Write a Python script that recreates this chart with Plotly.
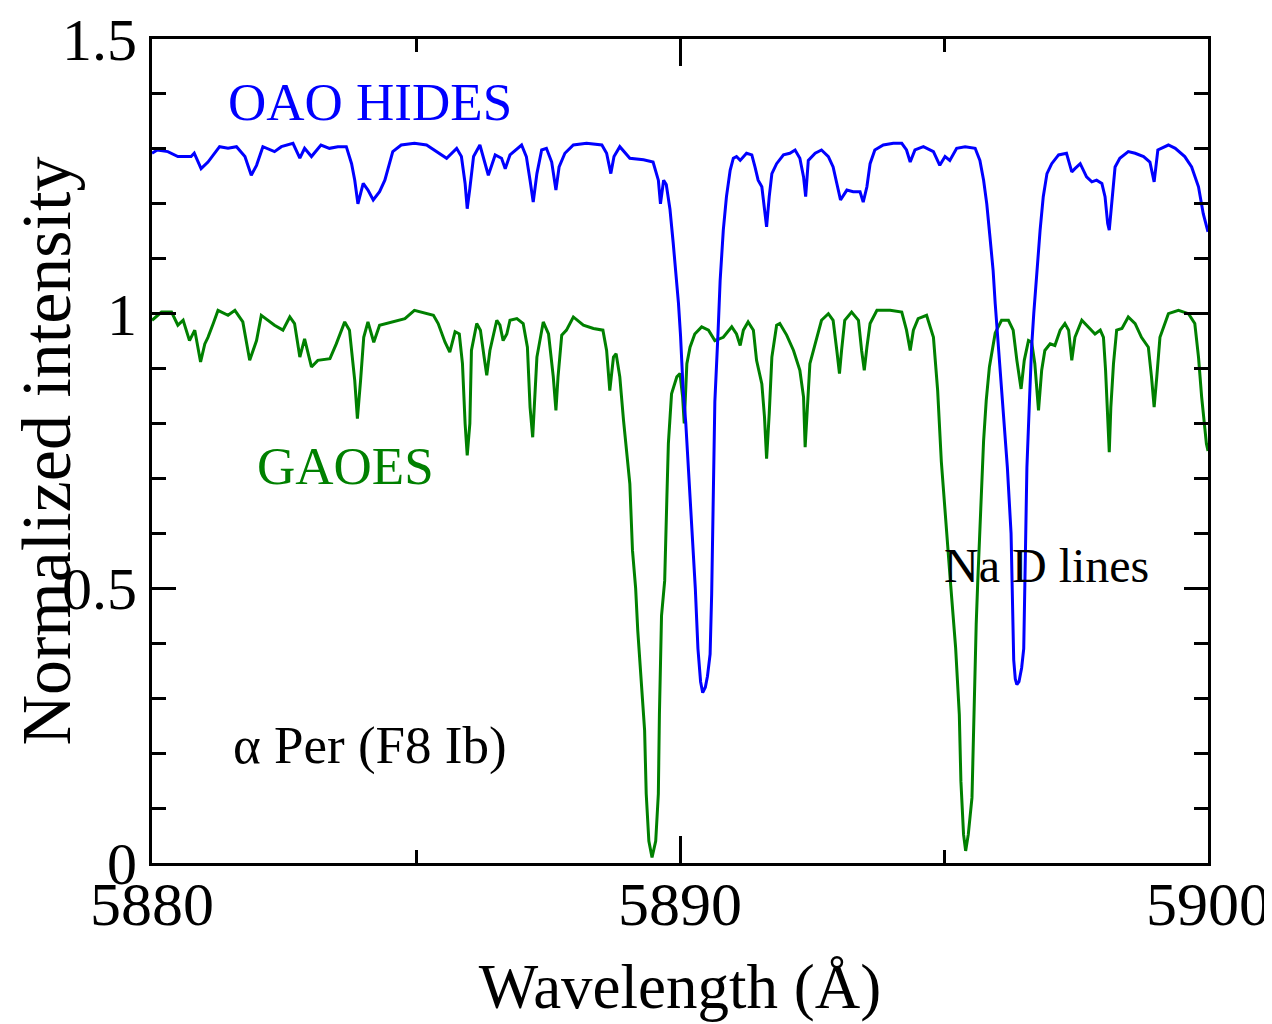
import plotly.graph_objects as go

# OAO HIDES spectrum (blue)
hides_wl = [5880.00, 5880.10, 5880.30, 5880.49, 5880.74, 5880.80, 5880.93, 5881.06, 5881.28, 5881.44,
            5881.60, 5881.76, 5881.88, 5881.98, 5882.10, 5882.32, 5882.45, 5882.67, 5882.80, 5882.89,
            5883.02, 5883.20, 5883.36, 5883.52, 5883.68, 5883.78, 5883.84, 5883.90, 5884.00, 5884.09,
            5884.19, 5884.31, 5884.41, 5884.56, 5884.72, 5884.97, 5885.20, 5885.39, 5885.58, 5885.77,
            5885.86, 5885.93, 5885.97, 5886.02, 5886.09, 5886.21, 5886.31, 5886.37, 5886.50, 5886.62,
            5886.69, 5886.78, 5887.00, 5887.09, 5887.16, 5887.22, 5887.29, 5887.38, 5887.47, 5887.57,
            5887.65, 5887.71, 5887.82, 5887.98, 5888.23, 5888.52, 5888.61, 5888.69, 5888.75, 5888.86,
            5889.05, 5889.31, 5889.49, 5889.59, 5889.63, 5889.69, 5889.74, 5889.81, 5889.87, 5889.92,
            5889.97, 5890.01, 5890.06, 5890.11, 5890.17, 5890.23, 5890.29, 5890.34, 5890.39, 5890.43,
            5890.48, 5890.52, 5890.57, 5890.60, 5890.63, 5890.66, 5890.72, 5890.76, 5890.82, 5890.88,
            5890.95, 5891.01, 5891.07, 5891.14, 5891.26, 5891.36, 5891.42, 5891.48, 5891.55, 5891.60,
            5891.64, 5891.69, 5891.74, 5891.83, 5891.96, 5892.08, 5892.18, 5892.27, 5892.34, 5892.38,
            5892.43, 5892.56, 5892.68, 5892.81, 5892.90, 5892.97, 5893.04, 5893.16, 5893.28, 5893.41,
            5893.47, 5893.54, 5893.60, 5893.69, 5893.85, 5894.04, 5894.20, 5894.29, 5894.36, 5894.45,
            5894.61, 5894.80, 5894.92, 5895.02, 5895.11, 5895.24, 5895.40, 5895.59, 5895.68, 5895.75,
            5895.81, 5895.87, 5895.93, 5895.97, 5896.03, 5896.09, 5896.16, 5896.20, 5896.27, 5896.30,
            5896.32, 5896.35, 5896.38, 5896.42, 5896.47, 5896.51, 5896.54, 5896.57, 5896.62, 5896.66,
            5896.70, 5896.76, 5896.82, 5896.88, 5896.95, 5897.04, 5897.17, 5897.32, 5897.42, 5897.48,
            5897.58, 5897.70, 5897.80, 5897.89, 5897.99, 5898.05, 5898.10, 5898.13, 5898.18, 5898.24,
            5898.33, 5898.49, 5898.62, 5898.78, 5898.90, 5898.98, 5899.05, 5899.25, 5899.38, 5899.56,
            5899.69, 5899.82, 5899.91, 5900.00]
hides_int = [1.292, 1.298, 1.295, 1.286, 1.286, 1.292, 1.264, 1.276, 1.304, 1.301,
             1.304, 1.286, 1.252, 1.270, 1.304, 1.295, 1.304, 1.310, 1.283, 1.301,
             1.286, 1.307, 1.301, 1.304, 1.304, 1.273, 1.243, 1.200, 1.237, 1.225,
             1.207, 1.222, 1.243, 1.295, 1.307, 1.310, 1.307, 1.295, 1.283, 1.301,
             1.286, 1.237, 1.191, 1.228, 1.286, 1.307, 1.273, 1.252, 1.289, 1.283,
             1.264, 1.289, 1.307, 1.286, 1.243, 1.203, 1.255, 1.298, 1.301, 1.276,
             1.225, 1.267, 1.292, 1.307, 1.310, 1.307, 1.292, 1.255, 1.286, 1.304,
             1.283, 1.280, 1.276, 1.243, 1.200, 1.243, 1.235, 1.190, 1.130, 1.080,
             1.020, 0.960, 0.860, 0.800, 0.700, 0.600, 0.500, 0.390, 0.330, 0.310,
             0.320, 0.340, 0.380, 0.490, 0.700, 0.840, 0.965, 1.060, 1.152, 1.213,
             1.261, 1.283, 1.286, 1.279, 1.292, 1.289, 1.267, 1.243, 1.231, 1.194,
             1.158, 1.213, 1.255, 1.273, 1.289, 1.292, 1.298, 1.283, 1.249, 1.213,
             1.279, 1.292, 1.298, 1.286, 1.267, 1.237, 1.207, 1.225, 1.222, 1.222,
             1.203, 1.231, 1.273, 1.298, 1.307, 1.310, 1.310, 1.298, 1.276, 1.298,
             1.304, 1.295, 1.270, 1.286, 1.279, 1.301, 1.304, 1.301, 1.279, 1.243,
             1.200, 1.140, 1.079, 1.018, 0.939, 0.860, 0.775, 0.720, 0.600, 0.490,
             0.370, 0.335, 0.325, 0.330, 0.355, 0.390, 0.569, 0.720, 0.845, 0.940,
             1.000, 1.079, 1.152, 1.213, 1.255, 1.273, 1.289, 1.292, 1.258, 1.264,
             1.273, 1.249, 1.240, 1.243, 1.237, 1.213, 1.164, 1.152, 1.207, 1.267,
             1.283, 1.295, 1.292, 1.286, 1.276, 1.240, 1.298, 1.307, 1.301, 1.286,
             1.267, 1.231, 1.182, 1.149]

# GAOES spectrum (green)
gaoes_wl = [5880.00, 5880.18, 5880.37, 5880.49, 5880.59, 5880.71, 5880.81, 5880.92, 5881.00, 5881.06,
            5881.16, 5881.25, 5881.44, 5881.57, 5881.72, 5881.85, 5881.98, 5882.07, 5882.32, 5882.48,
            5882.61, 5882.70, 5882.80, 5882.89, 5883.02, 5883.14, 5883.37, 5883.49, 5883.65, 5883.74,
            5883.84, 5883.89, 5883.95, 5884.01, 5884.09, 5884.20, 5884.31, 5884.53, 5884.79, 5884.97,
            5885.08, 5885.33, 5885.42, 5885.55, 5885.64, 5885.74, 5885.82, 5885.88, 5885.93, 5885.97,
            5886.02, 5886.05, 5886.15, 5886.22, 5886.29, 5886.34, 5886.40, 5886.53, 5886.59, 5886.65,
            5886.72, 5886.78, 5886.91, 5887.03, 5887.11, 5887.16, 5887.21, 5887.25, 5887.29, 5887.41,
            5887.51, 5887.60, 5887.65, 5887.69, 5887.76, 5887.85, 5887.98, 5888.17, 5888.36, 5888.54,
            5888.61, 5888.67, 5888.74, 5888.79, 5888.86, 5888.93, 5888.99, 5889.05, 5889.10, 5889.16,
            5889.20, 5889.26, 5889.33, 5889.36, 5889.41, 5889.47, 5889.54, 5889.59, 5889.61, 5889.65,
            5889.71, 5889.75, 5889.78, 5889.84, 5889.94, 5890.00, 5890.05, 5890.08, 5890.13, 5890.19,
            5890.28, 5890.41, 5890.54, 5890.66, 5890.82, 5890.98, 5891.07, 5891.14, 5891.20, 5891.29,
            5891.39, 5891.45, 5891.55, 5891.60, 5891.64, 5891.69, 5891.74, 5891.83, 5891.89, 5892.02,
            5892.15, 5892.27, 5892.34, 5892.37, 5892.41, 5892.46, 5892.56, 5892.68, 5892.81, 5892.90,
            5892.97, 5893.02, 5893.06, 5893.12, 5893.25, 5893.38, 5893.44, 5893.49, 5893.54, 5893.60,
            5893.73, 5893.98, 5894.20, 5894.29, 5894.36, 5894.42, 5894.51, 5894.67, 5894.80, 5894.88,
            5894.95, 5895.02, 5895.09, 5895.12, 5895.22, 5895.29, 5895.32, 5895.37, 5895.41, 5895.46,
            5895.53, 5895.56, 5895.61, 5895.64, 5895.70, 5895.75, 5895.80, 5895.86, 5895.97, 5896.09,
            5896.22, 5896.31, 5896.38, 5896.46, 5896.52, 5896.60, 5896.66, 5896.72, 5896.79, 5896.85,
            5896.91, 5897.01, 5897.10, 5897.20, 5897.29, 5897.36, 5897.42, 5897.48, 5897.61, 5897.73,
            5897.86, 5897.96, 5898.02, 5898.06, 5898.10, 5898.13, 5898.16, 5898.21, 5898.27, 5898.37,
            5898.49, 5898.62, 5898.74, 5898.87, 5898.93, 5898.98, 5899.03, 5899.09, 5899.25, 5899.44,
            5899.63, 5899.75, 5899.82, 5899.88, 5899.97, 5900.00]
gaoes_int = [0.988, 1.003, 1.003, 0.979, 0.988, 0.951, 0.970, 0.912, 0.945, 0.957,
             0.982, 1.006, 0.997, 1.006, 0.985, 0.915, 0.951, 0.997, 0.979, 0.970,
             0.994, 0.982, 0.921, 0.954, 0.903, 0.915, 0.918, 0.945, 0.985, 0.970,
             0.878, 0.809, 0.878, 0.957, 0.985, 0.948, 0.979, 0.985, 0.991, 1.006,
             1.003, 0.997, 0.982, 0.948, 0.930, 0.967, 0.963, 0.909, 0.800, 0.742,
             0.800, 0.933, 0.982, 0.970, 0.921, 0.888, 0.933, 0.988, 0.979, 0.951,
             0.963, 0.988, 0.991, 0.982, 0.939, 0.830, 0.775, 0.848, 0.921, 0.985,
             0.963, 0.885, 0.824, 0.885, 0.961, 0.970, 0.994, 0.979, 0.973, 0.970,
             0.933, 0.860, 0.921, 0.927, 0.885, 0.806, 0.751, 0.690, 0.569, 0.500,
             0.423, 0.332, 0.241, 0.126, 0.040, 0.010, 0.040, 0.126, 0.270, 0.450,
             0.514, 0.660, 0.764, 0.854, 0.885, 0.891, 0.848, 0.800, 0.909, 0.939,
             0.963, 0.976, 0.970, 0.951, 0.957, 0.976, 0.963, 0.942, 0.970, 0.985,
             0.970, 0.915, 0.872, 0.812, 0.736, 0.818, 0.921, 0.979, 0.982, 0.961,
             0.933, 0.897, 0.848, 0.757, 0.836, 0.909, 0.945, 0.988, 1.000, 0.988,
             0.933, 0.891, 0.933, 0.988, 1.003, 0.988, 0.933, 0.897, 0.939, 0.982,
             1.006, 1.006, 1.003, 0.970, 0.933, 0.970, 0.991, 0.997, 0.957, 0.860,
             0.730, 0.636, 0.538, 0.514, 0.392, 0.270, 0.149, 0.052, 0.022, 0.052,
             0.119, 0.253, 0.435, 0.514, 0.660, 0.769, 0.842, 0.903, 0.965, 0.988,
             0.988, 0.970, 0.915, 0.863, 0.915, 0.951, 0.948, 0.909, 0.824, 0.897,
             0.933, 0.945, 0.942, 0.970, 0.982, 0.970, 0.915, 0.957, 0.988, 0.976,
             0.963, 0.970, 0.957, 0.897, 0.818, 0.748, 0.830, 0.909, 0.970, 0.973,
             0.994, 0.982, 0.957, 0.939, 0.885, 0.830, 0.885, 0.957, 1.000, 1.006,
             1.000, 0.982, 0.921, 0.848, 0.763, 0.750]

x_ticks = [5880, 5890, 5900]
x_ticklabels = ["5880", "5890", "5900"]
y_ticks = [0, 0.5, 1, 1.5]
y_ticklabels = ["0", "0.5", "1", "1.5"]

FONT = "Liberation Serif, Times New Roman, serif"

fig = go.Figure()
fig.add_trace(go.Scatter(x=gaoes_wl, y=gaoes_int, mode="lines", name="GAOES",
                         line=dict(color="#008000", width=3)))
fig.add_trace(go.Scatter(x=hides_wl, y=hides_int, mode="lines", name="OAO HIDES",
                         line=dict(color="#0000FF", width=3)))

fig.add_annotation(x=5884.13, y=1.385, text="OAO HIDES", showarrow=False,
                   font=dict(family=FONT, size=53, color="#0000FF"))
fig.add_annotation(x=5883.67, y=0.723, text="GAOES", showarrow=False,
                   font=dict(family=FONT, size=53, color="#008000"))
fig.add_annotation(x=5896.95, y=0.541, text="Na D lines", showarrow=False,
                   font=dict(family=FONT, size=48, color="black"))
fig.add_annotation(x=5884.13, y=0.213, text="α Per (F8 Ib)", showarrow=False,
                   font=dict(family=FONT, size=53, color="black"))

# The page body adds an 8px margin, so the figure is sized to sit inside it.
fig.update_layout(
    width=1264, height=1016,
    margin=dict(l=144, r=64, t=31, b=161),
    paper_bgcolor="white", plot_bgcolor="white",
    showlegend=False,
    font=dict(family=FONT, color="black"),
)
fig.update_xaxes(
    range=[5880, 5900], tickvals=x_ticks, ticktext=x_ticklabels,
    automargin=False, ticklabeloverflow="allow",
    showgrid=False, zeroline=False,
    showline=True, linecolor="black", linewidth=3, mirror="allticks",
    ticks="inside", ticklen=27, tickwidth=3, tickcolor="black",
    minor=dict(ticks="inside", ticklen=13, tickwidth=3, tickcolor="black", dtick=5, tick0=5880, showgrid=False),
    tickfont=dict(family=FONT, size=62, color="black"),
    ticklabelstandoff=-15,
    title=dict(text="Wavelength (Å)", font=dict(family=FONT, size=63, color="black"), standoff=27),
)
fig.update_yaxes(
    range=[0, 1.5], tickvals=y_ticks, ticktext=y_ticklabels,
    automargin=False, ticklabeloverflow="allow",
    showgrid=False, zeroline=False,
    showline=True, linecolor="black", linewidth=3, mirror="allticks",
    ticks="inside", ticklen=24, tickwidth=3, tickcolor="black",
    minor=dict(ticks="inside", ticklen=14, tickwidth=3, tickcolor="black", dtick=0.1, tick0=0, showgrid=False),
    tickfont=dict(family=FONT, size=60, color="black"),
    title=dict(text="Normalized intensity", font=dict(family=FONT, size=70, color="black"), standoff=4),
)

fig.write_html("out.html")
